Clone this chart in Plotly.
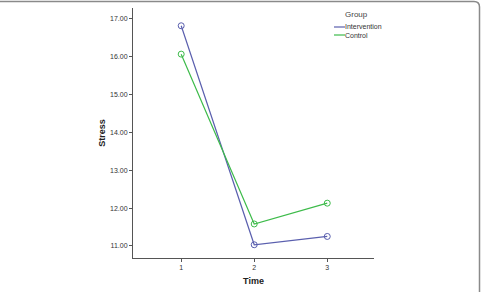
import plotly.graph_objects as go

times = [1, 2, 3]
intervention = [16.82, 11.03, 11.25]
control = [16.07, 11.58, 12.13]
y_ticks = [11, 12, 13, 14, 15, 16, 17]
y_tick_labels = ["11.00", "12.00", "13.00", "14.00", "15.00", "16.00", "17.00"]
series_names = ["Intervention", "Control"]
legend_title = "Group"

blue = "#5a5fae"
green = "#3dbb4a"
colors = [blue, green]

W, H = 482, 292
L, R, T, B = 133, 374, 8, 258


def px(x):
    return (x - L) / (R - L)


def py(y):
    return (B - y) / (B - T)


fig = go.Figure()
for name, vals, col in zip(series_names, [intervention, control], colors):
    fig.add_trace(go.Scatter(x=times, y=vals, mode="lines+markers", name=name,
                             line=dict(color=col, width=1.2),
                             marker=dict(symbol="circle-open", size=6, color=col, line=dict(width=1)),
                             showlegend=False))

fig.update_layout(
    width=W, height=H,
    margin=dict(l=L, r=W - R, t=T, b=H - B, autoexpand=False),
    paper_bgcolor="white", plot_bgcolor="white",
    font=dict(family="Liberation Sans, Arial", size=7, color="#333"),
    showlegend=False,
    xaxis=dict(range=[0.34, 3.64], tickvals=times, ticktext=["1", "2", "3"], automargin=False,
               showgrid=False, zeroline=False, showline=True, linecolor="#555", linewidth=1,
               ticks="outside", ticklen=3, tickcolor="#555",
               title=dict(text="<b>Time</b>", font=dict(size=9, color="#222"), standoff=7)),
    yaxis=dict(range=[10.68, 17.29], tickvals=y_ticks, ticktext=y_tick_labels, automargin=False,
               showgrid=False, zeroline=False, showline=True, linecolor="#555", linewidth=1,
               ticks="outside", ticklen=3, tickcolor="#555",
               title=dict(text="<b>Stress</b>", font=dict(size=9, color="#222"), standoff=2)),
)

# manual legend
fig.add_annotation(x=px(356), y=py(14), xref="paper", yref="paper", text=legend_title,
                   showarrow=False, xanchor="center", yanchor="middle",
                   font=dict(size=8, color="#444"))
for i, (name, col) in enumerate(zip(series_names, colors)):
    yy = 27 + 8 * i
    fig.add_shape(type="line", xref="paper", yref="paper",
                  x0=px(334), x1=px(345), y0=py(yy), y1=py(yy),
                  line=dict(color=col, width=1.2))
    fig.add_annotation(x=px(345), y=py(yy), xref="paper", yref="paper", text=name,
                       showarrow=False, xanchor="left", yanchor="middle",
                       font=dict(size=7, color="#333"), borderpad=0, xshift=-1)

# rounded border frame (top and right edges visible)
path = "M {:.4f},{:.4f} L {:.4f},{:.4f} Q {:.4f},{:.4f} {:.4f},{:.4f} L {:.4f},{:.4f}".format(
    px(-5), py(1.5), px(474), py(1.5), px(479.5), py(1.5), px(479.5), py(7), px(479.5), py(300))
fig.add_shape(type="path", xref="paper", yref="paper", path=path,
              line=dict(color="#8a8a8a", width=1.5))

fig.write_html("out.html")
